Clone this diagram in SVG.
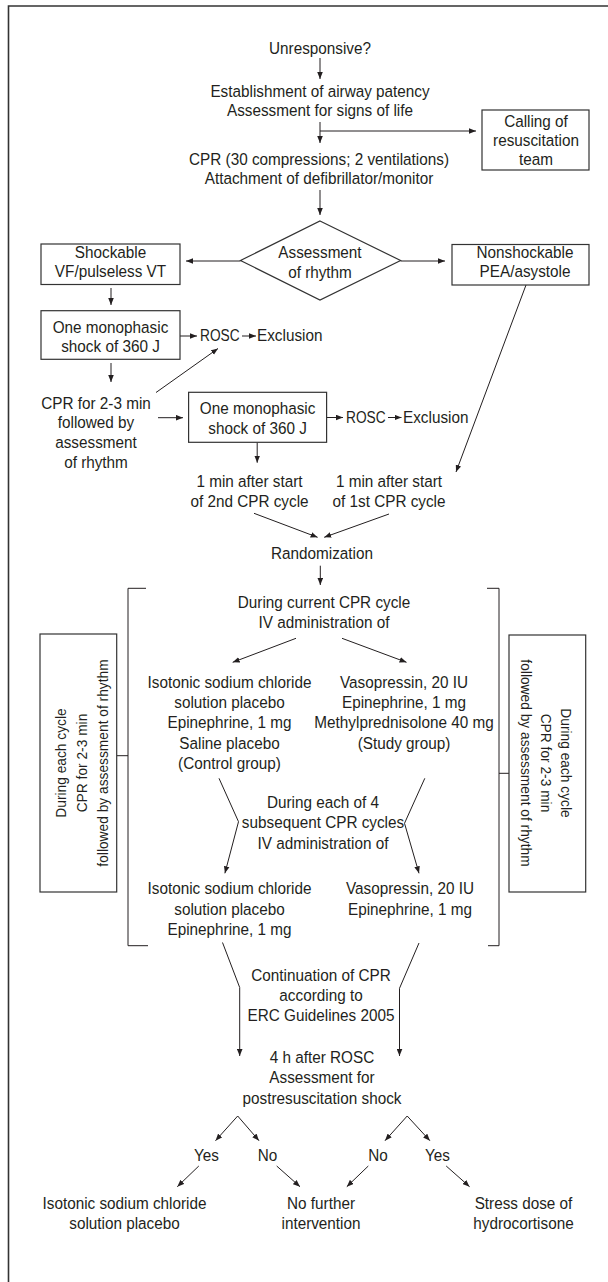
<svg xmlns="http://www.w3.org/2000/svg" width="608" height="1282" viewBox="0 0 608 1282">
<defs>
<style>
text{font-family:"Liberation Sans",Arial,sans-serif;font-size:17px;fill:#231f20;text-anchor:middle}
.side{font-size:15.3px}
.st{text-anchor:start}
.ln{fill:none;stroke:#231f20;stroke-width:1}
.bx{fill:#fff;stroke:#333;stroke-width:1.2}
.fr{fill:none;stroke:#333;stroke-width:1.6}
</style>
<marker id="ah" markerWidth="8" markerHeight="6" refX="7" refY="3" orient="auto" markerUnits="userSpaceOnUse"><path d="M0,0.2 L7,3 L0,5.8 Z" fill="#231f20"/></marker>
</defs>
<rect width="608" height="1282" fill="#fff"/>
<path class="fr" d="M8.5,1282 V6 H608"/>

<g id="connectors" class="ln">
<path d="M320,58 V79" marker-end="url(#ah)"/>
<path d="M320,122 V143" marker-end="url(#ah)"/>
<path d="M320,131 H476" marker-end="url(#ah)"/>
<path d="M320,190 V215" marker-end="url(#ah)"/>
<path d="M240.5,261 H186" marker-end="url(#ah)"/>
<path d="M400.6,261 H445" marker-end="url(#ah)"/>
<path d="M111,288 V305" marker-end="url(#ah)"/>
<path d="M180,336 H197" marker-end="url(#ah)"/>
<path d="M242,336 H256" marker-end="url(#ah)"/>
<path d="M111,363 V382" marker-end="url(#ah)"/>
<path d="M156,392.5 L218,348.5" marker-end="url(#ah)"/>
<path d="M158,417.7 H183" marker-end="url(#ah)"/>
<path d="M327,417.5 H343" marker-end="url(#ah)"/>
<path d="M388,417.5 H401.5" marker-end="url(#ah)"/>
<path d="M257.2,442.3 V462.7" marker-end="url(#ah)"/>
<path d="M526,285 L456,472" marker-end="url(#ah)"/>
<path d="M254,513.3 L317.6,537.3" marker-end="url(#ah)"/>
<path d="M389,514 L324.2,537.3" marker-end="url(#ah)"/>
<path d="M320.3,565.7 V585" marker-end="url(#ah)"/>
<path d="M296,638.3 L232.7,662.3" marker-end="url(#ah)"/>
<path d="M342,638.3 L406.5,662.3" marker-end="url(#ah)"/>
<path d="M219,778.3 L238.5,821.7 L224.9,873.3" marker-end="url(#ah)"/>
<path d="M424.8,778.3 L404.5,823.3 L419,873.3" marker-end="url(#ah)"/>
<path d="M222.5,942.5 L239.7,987.5 V1056" marker-end="url(#ah)"/>
<path d="M419,943 L399.5,988.3 V1056" marker-end="url(#ah)"/>
<path d="M237.7,1116 L215.5,1140.7" marker-end="url(#ah)"/>
<path d="M237.7,1116 L259,1140.7" marker-end="url(#ah)"/>
<path d="M407.2,1116 L385,1140.7" marker-end="url(#ah)"/>
<path d="M407.2,1116 L429.9,1140.7" marker-end="url(#ah)"/>
<path d="M198.8,1166 L177.3,1186.7" marker-end="url(#ah)"/>
<path d="M276.7,1166 L300,1186.7" marker-end="url(#ah)"/>
<path d="M368.3,1166 L346.8,1186.7" marker-end="url(#ah)"/>
<path d="M446.2,1166 L469.6,1186.7" marker-end="url(#ah)"/>
<path d="M146,588.3 H128 V945.7 H148"/>
<path d="M487,588.3 H499 V945.7 H488"/>
<path d="M116.7,755.7 H128"/>
<path d="M499,773.3 H509"/>
</g>

<g id="unresponsive"><text transform="translate(320 54) scale(.9 1)">Unresponsive?</text></g>
<g id="airway"><text transform="translate(320 97) scale(.9 1)"><tspan x="0">Establishment of airway patency</tspan><tspan x="0" dy="19">Assessment for signs of life</tspan></text></g>
<g id="calling"><rect class="bx" x="482" y="110" width="107" height="60"/><text transform="translate(536 127) scale(.9 1)"><tspan x="0">Calling of</tspan><tspan x="0" dy="19">resuscitation</tspan><tspan x="0" dy="19">team</tspan></text></g>
<g id="cpr"><text transform="translate(319 165) scale(.9 1)"><tspan x="0">CPR (30 compressions; 2 ventilations)</tspan><tspan x="0" dy="19">Attachment of defibrillator/monitor</tspan></text></g>
<g id="rhythm"><path class="bx" d="M320,221 L400.6,260.5 L320,300 L240.5,260.5 Z"/><text transform="translate(320 258) scale(.9 1)"><tspan x="0">Assessment</tspan><tspan x="0" dy="20">of rhythm</tspan></text></g>
<g id="shockable"><rect class="bx" x="41" y="244" width="139" height="40.5"/><text transform="translate(110.5 257.5) scale(.9 1)"><tspan x="0">Shockable</tspan><tspan x="0" dy="20">VF/pulseless VT</tspan></text></g>
<g id="nonshockable"><rect class="bx" x="452" y="244.5" width="137" height="40.5"/><text transform="translate(525 257.5) scale(.9 1)"><tspan x="0">Nonshockable</tspan><tspan x="0" dy="20">PEA/asystole</tspan></text></g>
<g id="shock1"><rect class="bx" x="41" y="310.7" width="139" height="48.6"/><text transform="translate(110.5 332.5) scale(.9 1)"><tspan x="0">One monophasic</tspan><tspan x="0" dy="20">shock of 360 J</tspan></text></g>
<g id="rosc1"><text class="st" transform="translate(200 341) scale(.9 1)" textLength="44" lengthAdjust="spacingAndGlyphs">ROSC</text><text class="st" transform="translate(257 341) scale(.9 1)">Exclusion</text></g>
<g id="cpr23"><text transform="translate(96 408.5) scale(.9 1)"><tspan x="0">CPR for 2-3 min</tspan><tspan x="0" dy="20">followed by</tspan><tspan x="0" dy="20">assessment</tspan><tspan x="0" dy="20">of rhythm</tspan></text></g>
<g id="shock2"><rect class="bx" x="188.6" y="392.3" width="138" height="50"/><text transform="translate(257.6 414) scale(.9 1)"><tspan x="0">One monophasic</tspan><tspan x="0" dy="20.5">shock of 360 J</tspan></text></g>
<g id="rosc2"><text class="st" transform="translate(346 422.5) scale(.9 1)" textLength="44" lengthAdjust="spacingAndGlyphs">ROSC</text><text class="st" transform="translate(403 422.5) scale(.9 1)">Exclusion</text></g>
<g id="min2nd"><text transform="translate(249.5 487) scale(.9 1)"><tspan x="0">1 min after start</tspan><tspan x="0" dy="20">of 2nd CPR cycle</tspan></text></g>
<g id="min1st"><text transform="translate(389 487) scale(.9 1)"><tspan x="0">1 min after start</tspan><tspan x="0" dy="20">of 1st CPR cycle</tspan></text></g>
<g id="randomization"><text transform="translate(322 559) scale(.9 1)">Randomization</text></g>
<g id="current"><text transform="translate(324 608) scale(.9 1)"><tspan x="0">During current CPR cycle</tspan><tspan x="0" dy="20">IV administration of</tspan></text></g>
<g id="control"><text transform="translate(229.5 687.5) scale(.9 1)"><tspan x="0">Isotonic sodium chloride</tspan><tspan x="0" dy="20.5">solution placebo</tspan><tspan x="0" dy="20.5">Epinephrine, 1 mg</tspan><tspan x="0" dy="20.5">Saline placebo</tspan><tspan x="0" dy="20.5">(Control group)</tspan></text></g>
<g id="study"><text transform="translate(404 687.5) scale(.9 1)"><tspan x="0">Vasopressin, 20 IU</tspan><tspan x="0" dy="20.5">Epinephrine, 1 mg</tspan><tspan x="0" dy="20.5">Methylprednisolone 40 mg</tspan><tspan x="0" dy="20.5">(Study group)</tspan></text></g>
<g id="subsequent"><text transform="translate(323 808) scale(.9 1)"><tspan x="0">During each of 4</tspan><tspan x="0" dy="20.5">subsequent CPR cycles</tspan><tspan x="0" dy="20.5">IV administration of</tspan></text></g>
<g id="control2"><text transform="translate(229.5 894) scale(.9 1)"><tspan x="0">Isotonic sodium chloride</tspan><tspan x="0" dy="20.7">solution placebo</tspan><tspan x="0" dy="20.7">Epinephrine, 1 mg</tspan></text></g>
<g id="study2"><text transform="translate(410 894) scale(.9 1)"><tspan x="0">Vasopressin, 20 IU</tspan><tspan x="0" dy="20.7">Epinephrine, 1 mg</tspan></text></g>
<g id="sideLeft"><rect class="bx" x="40" y="634" width="76.7" height="258"/><text class="side" transform="translate(66 763) rotate(-90) scale(.9 1)"><tspan x="0">During each cycle</tspan><tspan x="0" dy="21">CPR for 2-3 min</tspan><tspan x="0" dy="21">followed by assessment of rhythm</tspan></text></g>
<g id="sideRight"><rect class="bx" x="509" y="635" width="76.7" height="257"/><text class="side" transform="translate(561 763) rotate(90) scale(.9 1)"><tspan x="0">During each cycle</tspan><tspan x="0" dy="20">CPR for 2-3 min</tspan><tspan x="0" dy="20">followed by assessment of rhythm</tspan></text></g>
<g id="continuation"><text transform="translate(321 980.5) scale(.9 1)"><tspan x="0">Continuation of CPR</tspan><tspan x="0" dy="20.5">according to</tspan><tspan x="0" dy="20.5">ERC Guidelines 2005</tspan></text></g>
<g id="postrosc"><text transform="translate(322 1063) scale(.9 1)"><tspan x="0">4 h after ROSC</tspan><tspan x="0" dy="20.5">Assessment for</tspan><tspan x="0" dy="20.5">postresuscitation shock</tspan></text></g>
<g id="answers"><text transform="translate(206.5 1160.5) scale(.9 1)">Yes</text><text transform="translate(267.5 1160.5) scale(.9 1)">No</text><text transform="translate(378 1160.5) scale(.9 1)">No</text><text transform="translate(437.5 1160.5) scale(.9 1)">Yes</text></g>
<g id="placebo"><text transform="translate(124.5 1209) scale(.9 1)"><tspan x="0">Isotonic sodium chloride</tspan><tspan x="0" dy="20">solution placebo</tspan></text></g>
<g id="nofurther"><text transform="translate(321 1209) scale(.9 1)"><tspan x="0">No further</tspan><tspan x="0" dy="20">intervention</tspan></text></g>
<g id="hydrocortisone"><text transform="translate(523.5 1209) scale(.9 1)"><tspan x="0">Stress dose of</tspan><tspan x="0" dy="20">hydrocortisone</tspan></text></g>
</svg>
